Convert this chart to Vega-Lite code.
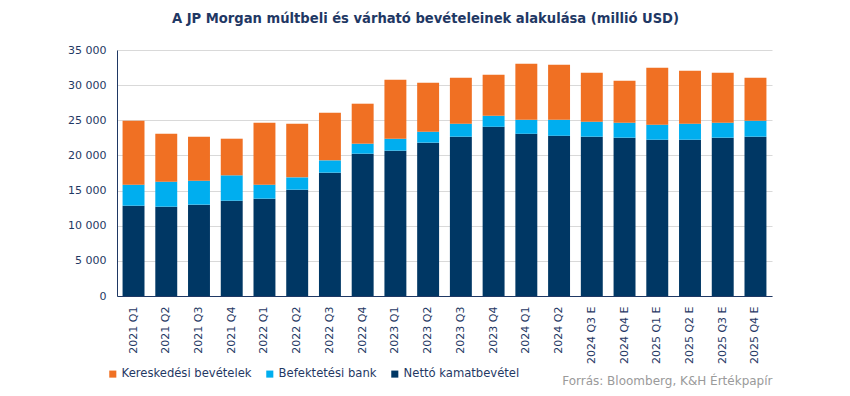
{
  "$schema": "https://vega.github.io/schema/vega-lite/v6.json",
  "width": 655,
  "height": 246,
  "autosize": {"type": "none"},
  "padding": {"left": 117, "top": 50, "right": 78, "bottom": 100},
  "background": "white",
  "title": {
    "text": "A JP Morgan múltbeli és várható bevételeinek  alakulása (millió USD)",
    "font": "DejaVu Sans Condensed",
    "fontSize": 14.6,
    "fontWeight": "bold",
    "color": "#1F3864",
    "anchor": "middle",
    "dx": -19,
    "offset": 18
  },
  "data": {
    "values": [
      {"q": "2021 Q1", "s": "Nettó kamatbevétel", "r": 1, "v": 12850},
      {"q": "2021 Q1", "s": "Befektetési bank", "r": 2, "v": 2990},
      {"q": "2021 Q1", "s": "Kereskedési bevételek", "r": 3, "v": 9110},
      {"q": "2021 Q2", "s": "Nettó kamatbevétel", "r": 1, "v": 12710},
      {"q": "2021 Q2", "s": "Befektetési bank", "r": 2, "v": 3560},
      {"q": "2021 Q2", "s": "Kereskedési bevételek", "r": 3, "v": 6830},
      {"q": "2021 Q3", "s": "Nettó kamatbevétel", "r": 1, "v": 13000},
      {"q": "2021 Q3", "s": "Befektetési bank", "r": 2, "v": 3410},
      {"q": "2021 Q3", "s": "Kereskedési bevételek", "r": 3, "v": 6260},
      {"q": "2021 Q4", "s": "Nettó kamatbevétel", "r": 1, "v": 13560},
      {"q": "2021 Q4", "s": "Befektetési bank", "r": 2, "v": 3610},
      {"q": "2021 Q4", "s": "Kereskedési bevételek", "r": 3, "v": 5210},
      {"q": "2022 Q1", "s": "Nettó kamatbevétel", "r": 1, "v": 13850},
      {"q": "2022 Q1", "s": "Befektetési bank", "r": 2, "v": 1990},
      {"q": "2022 Q1", "s": "Kereskedési bevételek", "r": 3, "v": 8820},
      {"q": "2022 Q2", "s": "Nettó kamatbevétel", "r": 1, "v": 15130},
      {"q": "2022 Q2", "s": "Befektetési bank", "r": 2, "v": 1750},
      {"q": "2022 Q2", "s": "Kereskedési bevételek", "r": 3, "v": 7640},
      {"q": "2022 Q3", "s": "Nettó kamatbevétel", "r": 1, "v": 17550},
      {"q": "2022 Q3", "s": "Befektetési bank", "r": 2, "v": 1750},
      {"q": "2022 Q3", "s": "Kereskedési bevételek", "r": 3, "v": 6780},
      {"q": "2022 Q4", "s": "Nettó kamatbevétel", "r": 1, "v": 20250},
      {"q": "2022 Q4", "s": "Befektetési bank", "r": 2, "v": 1420},
      {"q": "2022 Q4", "s": "Kereskedési bevételek", "r": 3, "v": 5690},
      {"q": "2023 Q1", "s": "Nettó kamatbevétel", "r": 1, "v": 20680},
      {"q": "2023 Q1", "s": "Befektetési bank", "r": 2, "v": 1700},
      {"q": "2023 Q1", "s": "Kereskedési bevételek", "r": 3, "v": 8400},
      {"q": "2023 Q2", "s": "Nettó kamatbevétel", "r": 1, "v": 21820},
      {"q": "2023 Q2", "s": "Befektetési bank", "r": 2, "v": 1560},
      {"q": "2023 Q2", "s": "Kereskedési bevételek", "r": 3, "v": 6970},
      {"q": "2023 Q3", "s": "Nettó kamatbevétel", "r": 1, "v": 22670},
      {"q": "2023 Q3", "s": "Befektetési bank", "r": 2, "v": 1850},
      {"q": "2023 Q3", "s": "Kereskedési bevételek", "r": 3, "v": 6540},
      {"q": "2023 Q4", "s": "Nettó kamatbevétel", "r": 1, "v": 24090},
      {"q": "2023 Q4", "s": "Befektetési bank", "r": 2, "v": 1570},
      {"q": "2023 Q4", "s": "Kereskedési bevételek", "r": 3, "v": 5830},
      {"q": "2024 Q1", "s": "Nettó kamatbevétel", "r": 1, "v": 23100},
      {"q": "2024 Q1", "s": "Befektetési bank", "r": 2, "v": 1990},
      {"q": "2024 Q1", "s": "Kereskedési bevételek", "r": 3, "v": 7970},
      {"q": "2024 Q2", "s": "Nettó kamatbevétel", "r": 1, "v": 22810},
      {"q": "2024 Q2", "s": "Befektetési bank", "r": 2, "v": 2280},
      {"q": "2024 Q2", "s": "Kereskedési bevételek", "r": 3, "v": 7820},
      {"q": "2024 Q3 E", "s": "Nettó kamatbevétel", "r": 1, "v": 22670},
      {"q": "2024 Q3 E", "s": "Befektetési bank", "r": 2, "v": 2130},
      {"q": "2024 Q3 E", "s": "Kereskedési bevételek", "r": 3, "v": 6970},
      {"q": "2024 Q4 E", "s": "Nettó kamatbevétel", "r": 1, "v": 22530},
      {"q": "2024 Q4 E", "s": "Befektetési bank", "r": 2, "v": 2130},
      {"q": "2024 Q4 E", "s": "Kereskedési bevételek", "r": 3, "v": 5980},
      {"q": "2025 Q1 E", "s": "Nettó kamatbevétel", "r": 1, "v": 22240},
      {"q": "2025 Q1 E", "s": "Befektetési bank", "r": 2, "v": 2140},
      {"q": "2025 Q1 E", "s": "Kereskedési bevételek", "r": 3, "v": 8110},
      {"q": "2025 Q2 E", "s": "Nettó kamatbevétel", "r": 1, "v": 22240},
      {"q": "2025 Q2 E", "s": "Befektetési bank", "r": 2, "v": 2280},
      {"q": "2025 Q2 E", "s": "Kereskedési bevételek", "r": 3, "v": 7540},
      {"q": "2025 Q3 E", "s": "Nettó kamatbevétel", "r": 1, "v": 22530},
      {"q": "2025 Q3 E", "s": "Befektetési bank", "r": 2, "v": 2130},
      {"q": "2025 Q3 E", "s": "Kereskedési bevételek", "r": 3, "v": 7110},
      {"q": "2025 Q4 E", "s": "Nettó kamatbevétel", "r": 1, "v": 22670},
      {"q": "2025 Q4 E", "s": "Befektetési bank", "r": 2, "v": 2280},
      {"q": "2025 Q4 E", "s": "Kereskedési bevételek", "r": 3, "v": 6110}
    ]
  },
  "mark": {"type": "bar"},
  "encoding": {
    "x": {
      "field": "q",
      "type": "nominal",
      "sort": null,
      "scale": {"paddingInner": 0.33, "paddingOuter": 0.17},
      "axis": {
        "title": "Forrás: Bloomberg, K&H Értékpapír",
        "titleAnchor": "end",
        "titleAlign": "right",
        "titleFont": "DejaVu Sans",
        "titleFontSize": 12,
        "titleFontWeight": "normal",
        "titleColor": "#9A9A9A",
        "titlePadding": 12,
        "labelAngle": -90,
        "labelAlign": "right",
        "labelBaseline": "middle",
        "labelPadding": 10,
        "labelFont": "DejaVu Sans",
        "labelFontSize": 11,
        "labelColor": "#1F3864",
        "ticks": false,
        "domainColor": "#1F3864",
        "domainWidth": 1
      }
    },
    "y": {
      "field": "v",
      "type": "quantitative",
      "stack": "zero",
      "scale": {"domain": [0, 35000]},
      "axis": {
        "title": null,
        "values": [0, 5000, 10000, 15000, 20000, 25000, 30000, 35000],
        "labelExpr": "replace(format(datum.value, ','), /,/g, ' ')",
        "labelFont": "DejaVu Sans",
        "labelFontSize": 11,
        "labelColor": "#1F3864",
        "labelPadding": 11,
        "ticks": false,
        "domainColor": "#1F3864",
        "gridColor": "#D9D9D9",
        "gridWidth": 1
      }
    },
    "color": {
      "field": "s",
      "type": "nominal",
      "scale": {
        "domain": ["Kereskedési bevételek", "Befektetési bank", "Nettó kamatbevétel"],
        "range": ["#F07023", "#00AEEF", "#003764"]
      },
      "legend": {
        "title": null,
        "orient": "none",
        "direction": "horizontal",
        "legendX": -10,
        "legendY": 318,
        "symbolType": "square",
        "symbolSize": 50,
        "symbolStrokeWidth": 0,
        "labelFont": "DejaVu Sans",
        "labelFontSize": 11.6,
        "labelColor": "#1F3864",
        "labelOffset": 3,
        "columnPadding": 12
      }
    },
    "order": {"field": "r", "type": "quantitative"}
  },
  "config": {"view": {"stroke": null}}
}
